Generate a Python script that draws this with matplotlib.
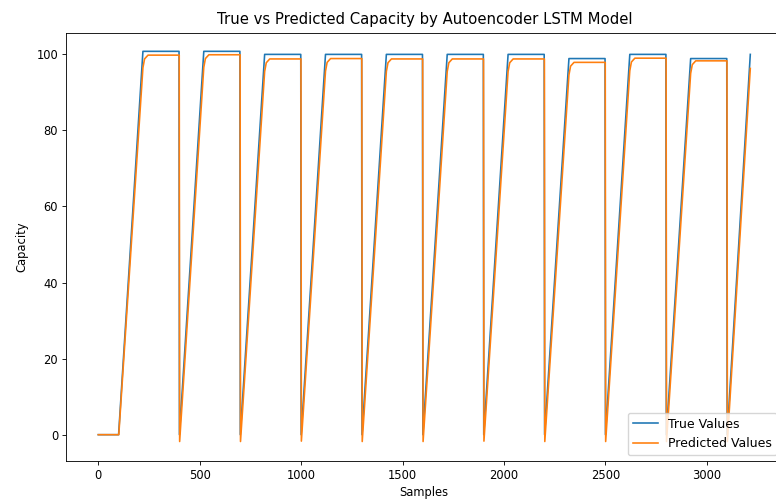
import matplotlib
matplotlib.use("Agg")
import matplotlib.pyplot as plt

# ---- data (vertices) ----
true_x = [0, 100, 220, 398, 400, 520, 698, 700, 820, 998, 1000, 1120, 1298, 1300,
          1420, 1598, 1600, 1720, 1898, 1900, 2020, 2198, 2200, 2320, 2498, 2500,
          2620, 2798, 2800, 2920, 3098, 3100, 3214]
true_y = [0, 0, 100.8, 100.8, 0, 100.8, 100.8, 0, 100, 100, 0, 100, 100, 0,
          100, 100, 0, 100, 100, 0, 100, 100, 0, 98.9, 98.9, 0,
          100, 100, 0, 98.9, 98.9, 0, 100]

pred_x = [0, 101,
          220, 228, 245, 399, 401,
          520, 528, 545, 699, 701,
          820, 828, 845, 999, 1001,
          1120, 1128, 1145, 1299, 1301,
          1420, 1428, 1445, 1599, 1601,
          1720, 1728, 1745, 1899, 1901,
          2020, 2028, 2045, 2199, 2201,
          2320, 2328, 2345, 2499, 2501,
          2620, 2628, 2645, 2799, 2801,
          2920, 2928, 2945, 3099, 3101,
          3214]
pred_y = [0, 0,
          96.5, 98.8, 99.8, 99.8, -1.8,
          96.6, 98.9, 99.9, 99.9, -1.8,
          95.5, 97.8, 98.8, 98.8, -1.7,
          95.6, 97.9, 98.9, 98.9, -1.8,
          95.5, 97.8, 98.8, 98.8, -1.8,
          95.5, 97.8, 98.8, 98.8, -1.7,
          95.5, 97.8, 98.8, 98.8, -1.8,
          94.6, 96.9, 97.9, 97.9, -1.8,
          95.7, 98.0, 99.0, 99.0, -1.8,
          95.0, 97.3, 98.3, 98.3, -1.8,
          96.3]

title = "True vs Predicted Capacity by Autoencoder LSTM Model"
x_label = "Samples"
y_label = "Capacity"
legend_labels = ["True Values", "Predicted Values"]

# ---- figure ----
s = 0.776
plt.rcParams.update({
    "font.size": 8.3,
    "axes.linewidth": 0.8 * s,
    "xtick.major.width": 0.8 * s,
    "ytick.major.width": 0.8 * s,
    "xtick.major.size": 3.5 * s,
    "ytick.major.size": 3.5 * s,
    "xtick.major.pad": 3.5 * s,
    "ytick.major.pad": 3.5 * s,
    "axes.labelpad": 4 * s,
})

fig = plt.figure(figsize=(7.76, 5.01), dpi=100)
ax = fig.add_axes([65.7 / 776, 39.7 / 501, 717.2 / 776, 428.6 / 501])

ax.plot(true_x, true_y, color="#1f77b4", lw=1.5 * s, label=legend_labels[0])
ax.plot(pred_x, pred_y, color="#ff7f0e", lw=1.5 * s, label=legend_labels[1])

ax.set_ylim(-7.0, 105.7)
ax.set_title(title, fontsize=10.7, pad=6)
ax.set_xlabel(x_label, fontsize=8.3)
ax.set_ylabel(y_label, fontsize=8.3, labelpad=5.5)
ax.legend(loc="lower right", fontsize=9)

fig.savefig("out.png", dpi=100)
